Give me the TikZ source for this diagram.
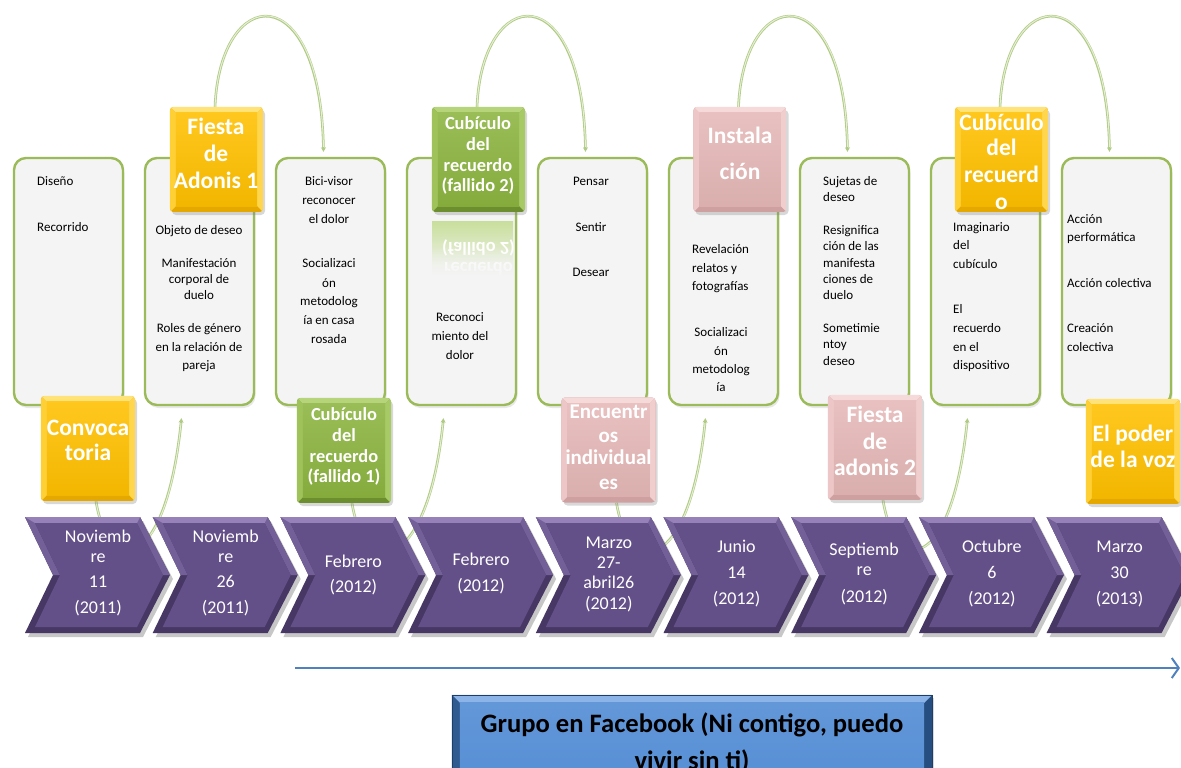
\documentclass[tikz,border=0pt]{standalone}
\usepackage{fontspec}
\setmainfont{Carlito}
\usetikzlibrary{arrows.meta,shadows,fadings}
\pgfdeclarelayer{bgw}
\pgfdeclarelayer{back}
\pgfsetlayers{bgw,back,main}

\definecolor{ylw}{RGB}{255,192,0}
\definecolor{ylwL}{RGB}{255,226,120}
\definecolor{ylwD}{RGB}{228,168,0}
\definecolor{grn}{RGB}{140,180,64}
\definecolor{grnL}{RGB}{182,212,122}
\definecolor{grnD}{RGB}{108,142,46}
\definecolor{pnk}{RGB}{229,184,183}
\definecolor{pnkL}{RGB}{246,218,218}
\definecolor{pnkD}{RGB}{206,160,160}
\definecolor{pur}{RGB}{100,80,136}
\definecolor{purL}{RGB}{150,130,185}
\definecolor{purM}{RGB}{116,96,152}
\definecolor{purD}{RGB}{70,55,100}
\definecolor{wbord}{RGB}{155,187,89}
\definecolor{wfill}{RGB}{244,244,244}
\definecolor{arcOc}{RGB}{176,203,132}
\definecolor{arcIc}{RGB}{230,239,214}
\definecolor{fbblue}{RGB}{85,142,213}
\definecolor{fbL}{RGB}{140,180,232}
\definecolor{fbD}{RGB}{38,78,128}
\definecolor{lineblue}{RGB}{79,129,189}

\tikzfading[name=fadedown, top color=transparent!100, bottom color=transparent!0]

\tikzset{
  wbox/.style={rectangle, rounded corners=12pt, draw=wbord, line width=2.4pt, fill=wfill,
    minimum width=109pt, minimum height=247pt, inner sep=0pt,
    drop shadow={shadow xshift=1.5pt, shadow yshift=-3pt, opacity=.18}},
  cshape/.style={rectangle, rounded corners=4pt, minimum height=105pt, inner sep=0pt,
    drop shadow={shadow xshift=2pt, shadow yshift=-3pt, opacity=.3}},
  fbshape/.style={rectangle, minimum width=480pt, minimum height=105pt, inner sep=0pt,
    drop shadow={shadow xshift=2pt, shadow yshift=-3pt, opacity=.3}},
  wtxt/.style={font=\fontsize{13}{15}\selectfont, text=black, inner sep=0pt},
  ctxt/.style={font=\fontsize{23.5}{27}\selectfont\bfseries, text=white, inner sep=0pt},
  ctxts/.style={font=\fontsize{18.4}{21}\selectfont\bfseries, text=white, inner sep=0pt},
  ctxtm/.style={font=\fontsize{21}{24}\selectfont\bfseries, text=white, inner sep=0pt},
  chtxt/.style={font=\fontsize{18}{22}\selectfont, text=white, inner sep=0pt},
  fbtxt/.style={font=\fontsize{26.6}{32}\selectfont\bfseries, text=black, inner sep=0pt},
  arcout/.style={draw=arcOc, line width=2.6pt, -{Stealth[length=4.5pt,width=5pt]}},
  arcin/.style={draw=arcIc, line width=1pt, shorten >=5pt},
}

\newcommand\tlines[5]{\foreach \ly/\lt [count=\li] in {#5}{\node[#1,anchor=#2] (#4\li) at (#3,\ly) {\lt};}}

% name, x, y, light, main, dark, width
\newcommand\bevelbox[7]{%
  \node[cshape, minimum width=#7] (#1) at (#2,#3) {};
  \begin{scope}
    \clip[rounded corners=4pt] (#1.south west) rectangle (#1.north east);
    \fill[#6] (#1.south west) rectangle (#1.north east);
    \fill[#4] (#1.north west) -- (#1.north east) -- ([shift={(-6pt,-6pt)}]#1.north east) -- ([shift={(6pt,-6pt)}]#1.north west) -- cycle;
    \fill[#4!45!#5] (#1.north west) -- ([shift={(6pt,-6pt)}]#1.north west) -- ([shift={(6pt,6pt)}]#1.south west) -- (#1.south west) -- cycle;
    \fill[#4!65!#5] (#1.north east) -- ([shift={(-6pt,-6pt)}]#1.north east) -- ([shift={(-6pt,6pt)}]#1.south east) -- (#1.south east) -- cycle;
    \shade[top color=#5!88!white, bottom color=#5!95!black] ([shift={(6pt,6pt)}]#1.south west) rectangle ([shift={(-6pt,-6pt)}]#1.north east);
  \end{scope}
}

\newcommand\chev[1]{%
  \fill[black, opacity=.22] ({#1+3},521) -- ({#1+118},521) -- ({#1+148},579) -- ({#1+118},637) -- ({#1+3},637) -- ({#1+31},579) -- cycle;
  \fill[purD] (#1,517) -- ({#1+115},517) -- ({#1+145},575) -- ({#1+115},633) -- (#1,633) -- ({#1+28},575) -- cycle;
  \fill[purM] (#1,517) -- ({#1+115},517) -- ({#1+145},575) -- ({#1+138},575) -- ({#1+112},523) -- ({#1+10},523) -- ({#1+35},575) -- ({#1+28},575) -- cycle;
  \fill[purL] (#1,517) -- ({#1+115},517) -- ({#1+112},523) -- ({#1+10},523) -- cycle;
  \fill[pur] ({#1+10},523) -- ({#1+112},523) -- ({#1+138},575) -- ({#1+112},627) -- ({#1+10},627) -- ({#1+35},575) -- cycle;
}

\begin{document}
\begin{tikzpicture}[x=1pt, y=-1pt]
\useasboundingbox (0,0) rectangle (1181,768);
\clip (0,0) rectangle (1181,768);
\begin{pgfonlayer}{bgw}
  \fill[white] (0,0) rectangle (1181,768);
\end{pgfonlayer}

% white boxes
\foreach \i in {1,...,9} {
  \node[wbox] (w\i) at ({68.5+131*(\i-1)},281.5) {};
}

% reflection under Cubiculo (fallido 2)
\shade[top color=grnL!75!white, bottom color=wfill] (432,221) rectangle (513,276);
\begin{scope}[shift={(478.5,242.5)}]
  \node[ctxts, text=white, yscale=-1, anchor=base] (r4a) at (0,0) {(fallido 2)};
\end{scope}
\begin{scope}[shift={(478.5,262.5)}]
  \node[ctxts, text=white, yscale=-1, anchor=base] (r4b) at (0,0) {recuerdo};
\end{scope}
\fill[wfill, path fading=fadedown] (430,246) rectangle (513,280);

% coloured boxes
\bevelbox{c1}{88}{448.5}{ylwL}{ylw}{ylwD}{94pt}
\bevelbox{c2}{216.5}{159.5}{ylwL}{ylw}{ylwD}{93pt}
\bevelbox{c3}{344}{450.5}{grnL}{grn}{grnD}{94pt}
\bevelbox{c4}{478.5}{159.5}{grnL}{grn}{grnD}{93pt}
\bevelbox{c5}{608.5}{450}{pnkL}{pnk}{pnkD}{94pt}
\bevelbox{c6}{740}{159.5}{pnkL}{pnk}{pnkD}{93pt}
\bevelbox{c7}{875}{447.5}{pnkL}{pnk}{pnkD}{94pt}
\bevelbox{c8}{1001.5}{159.5}{ylwL}{ylw}{ylwD}{93pt}
\bevelbox{c9}{1133}{451.5}{ylwL}{ylw}{ylwD}{94pt}

% chevrons
\foreach \i in {1,...,9} { \pgfmathsetmacro\cl{25+127.7*(\i-1)}\chev{\cl} }

% arcs (behind everything)
\begin{pgfonlayer}{back}
  \foreach \a/\b in {c2/w3, c4/w5, c6/w7, c8/w9} {
    \draw[arcout] ([xshift=-1.5pt]\a.north) .. controls +(5,-122) and +(-3,-178) .. ([xshift=-7pt,yshift=5pt]\b.north);
    \draw[arcin] ([xshift=-1.5pt]\a.north) .. controls +(5,-122) and +(-3,-178) .. ([xshift=-7pt,yshift=5pt]\b.north);
  }
  \foreach \a/\b in {c1/w2, c3/w4, c5/w6, c7/w8} {
    \draw[arcout] ([xshift=8pt]\a.south) .. controls +(12,75) and +(-16,158) .. ([xshift=-18pt,yshift=-12pt]\b.south);
    \draw[arcin] ([xshift=8pt]\a.south) .. controls +(12,75) and +(-16,158) .. ([xshift=-18pt,yshift=-12pt]\b.south);
  }
\end{pgfonlayer}

% texts of white boxes
\tlines{wtxt}{base west}{37}{b1-}{185/Diseño, 231/Recorrido}
\tlines{wtxt}{base}{199}{b2-}{234/Objeto de deseo, 267/Manifestación, 283/corporal de, 299/duelo, 332/Roles de género, 351/en la relación de, 369/pareja}
\tlines{wtxt}{base}{329}{b3-}{185/Bici-visor, 204/reconocer, 223/el dolor, 267/Socializaci, 287/ón, 305/metodolog, 324/ía en casa, 343/rosada}
\tlines{wtxt}{base}{460}{b4-}{321/Reconoci, 340/miento del, 359/dolor}
\tlines{wtxt}{base}{591}{b5-}{185/Pensar, 231/Sentir, 276/Desear}
\tlines{wtxt}{base west}{692}{b6a-}{253/Revelación, 272/relatos y, 290/fotografías}
\tlines{wtxt}{base}{721}{b6b-}{336/Socializaci, 355/ón, 373/metodolog, 391/ía}
\tlines{wtxt}{base west}{823}{b7-}{185/Sujetas de, 201/deseo, 234/Resignifica, 250/ción de las, 267/manifesta, 283/ciones de, 299/duelo, 332/Sometimie, 348/ntoy, 365/deseo}
\tlines{wtxt}{base west}{953}{b8-}{231/Imaginario, 249/del, 268/cubículo, 313/El, 332/recuerdo, 351/en el, 369/dispositivo}
\tlines{wtxt}{base west}{1067}{b9-}{223/Acción, 241/performática, 287/Acción colectiva, 332/Creación, 351/colectiva}

% texts of coloured boxes
\tlines{ctxt}{base}{88}{t1-}{435/Convoca, 460/toria}
\tlines{ctxt}{base}{216}{t2-}{134/Fiesta, 161/de, 188/Adonis 1}
\tlines{ctxts}{base}{344}{t3-}{420.5/Cubículo, 441.5/del, 462.5/recuerdo, 482.5/(fallido 1)}
\tlines{ctxts}{base}{478}{t4-}{129.5/Cubículo, 150.5/del, 171.5/recuerdo, 191.5/(fallido 2)}
\tlines{ctxtm}{base}{608.5}{t5-}{418.5/Encuentr, 442.5/os, 464.5/individual, 489.5/es}
\tlines{ctxt}{base}{740}{t6-}{143/Instala, 179/ción}
\tlines{ctxt}{base}{875}{t7-}{422/Fiesta, 449/de, 475/adonis 2}
\tlines{ctxt}{base}{1001.5}{t8-}{130/Cubículo, 155/del, 182/recuerd, 209/o}
\tlines{ctxt}{base}{1133}{t9-}{441/El poder, 467/de la voz}

% chevron texts
\tlines{chtxt}{base}{98}{d1-}{542.5/Noviemb, 562.5/re, 587.5/11, 613.5/(2011)}
\tlines{chtxt}{base}{225.7}{d2-}{542.5/Noviemb, 562.5/re, 587.5/26, 613.5/(2011)}
\tlines{chtxt}{base}{353.4}{d3-}{567.5/Febrero, 592.5/(2012)}
\tlines{chtxt}{base}{481.1}{d4-}{565.5/Febrero, 591.5/(2012)}
\tlines{chtxt}{base}{608.8}{d5-}{548.5/Marzo, 568.5/27-, 588.5/abril26, 609.5/(2012)}
\tlines{chtxt}{base}{736.5}{d6-}{552.5/Junio, 578.5/14, 604.5/(2012)}
\tlines{chtxt}{base}{864.2}{d7-}{555.5/Septiemb, 575.5/re, 602.5/(2012)}
\tlines{chtxt}{base}{991.9}{d8-}{552.5/Octubre, 578.5/6, 604.5/(2012)}
\tlines{chtxt}{base}{1119.6}{d9-}{552.5/Marzo, 578.5/30, 604.5/(2013)}

% timeline arrow
\coordinate (ls) at (295,668);
\coordinate (le) at (1180,668);
\draw[lineblue, line width=2pt, -{Straight Barb[length=7pt,width=20pt,line width=2pt]}] (ls) -- (le);

% Facebook box
\node[fbshape] (fb) at (692,747.5) {};
\fill[fbD] (fb.south west) rectangle (fb.north east);
\fill[fbL] (fb.north west) -- (fb.north east) -- ([shift={(-8pt,-8pt)}]fb.north east) -- ([shift={(8pt,-8pt)}]fb.north west) -- cycle;
\fill[fbD!80!fbblue] (fb.north west) -- ([shift={(8pt,-8pt)}]fb.north west) -- ([shift={(8pt,8pt)}]fb.south west) -- (fb.south west) -- cycle;
\shade[top color=fbblue!92!white, bottom color=fbblue] ([shift={(8pt,8pt)}]fb.south west) rectangle ([shift={(-8pt,-8pt)}]fb.north east);
\draw[fbD!80!black, line width=0.6pt] (fb.south west) rectangle (fb.north east);
\node[fbtxt, anchor=base] (fbt1) at (692,732) {Grupo en Facebook (Ni contigo, puedo};
\node[fbtxt, anchor=base] (fbt2) at (692,769) {vivir sin ti)};
\end{tikzpicture}
\end{document}
